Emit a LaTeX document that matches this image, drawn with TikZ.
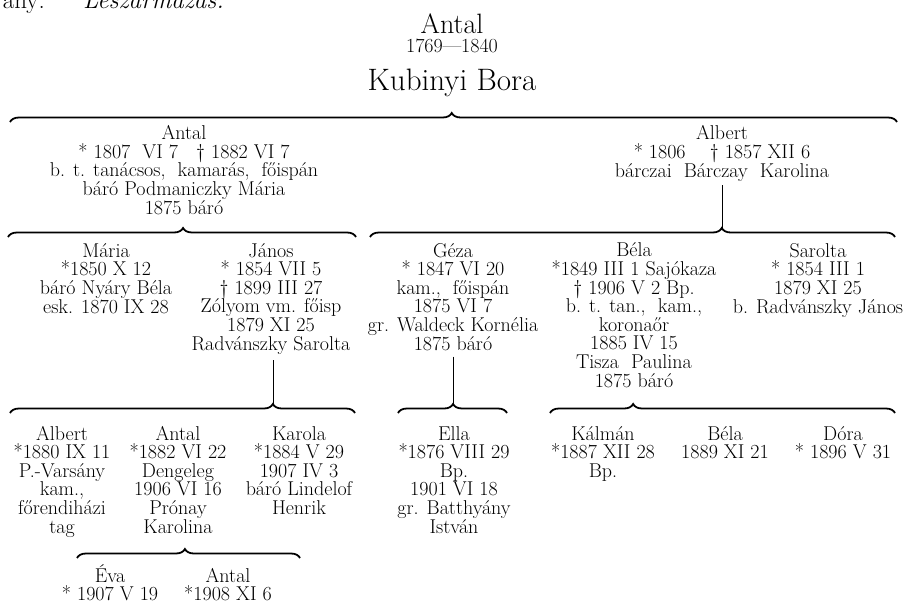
\documentclass[tikz,border=0pt]{standalone}
\usepackage{fontspec}
\usetikzlibrary{decorations.pathreplacing}
\begin{document}
\begin{tikzpicture}[x=1pt,y=1pt,
  person/.style={align=center,anchor=base,inner sep=0pt,font=\fontsize{20}{18.6}\selectfont},
  kids/.style={decorate,decoration={brace,amplitude=9pt,aspect=#1},line width=1.8pt},
  stem/.style={line width=0.8pt}]

\useasboundingbox (0,0) rectangle (905,-605);

\node[anchor=base east,inner sep=0pt,font=\fontsize{25}{27}\selectfont] (prev) at (45,-9) {ány:};
\node[anchor=base west,inner sep=0pt,font=\fontsize{25}{27}\selectfont\itshape] (lesz) at (83,-9) {Leszármazás:};

\begin{scope}
\node[anchor=base,inner sep=0pt,font=\fontsize{28}{30}\selectfont] (antal0) at (452,-33) {Antal};
\node[anchor=base,inner sep=0pt,font=\fontsize{20}{22}\selectfont] (dates0) at (452,-52) {1769---1840};
\node[anchor=base,inner sep=0pt,font=\fontsize{31}{33}\selectfont] (bora0) at (452,-90) {Kubinyi Bora};
\coordinate (b0l) at (10,-122);
\coordinate (b0r) at (897,-122);
\draw[kids=0.498] (b0l) -- (b0r);
\end{scope}

\begin{scope}
\node[person] (antal1) at (184,-214) {Antal\\ * 1807 \ VI 7 \ \ \dag\ 1882 VI 7\\ b. t. tanácsos, \ kamarás, \ főispán\\ báró Podmaniczky Mária\\ 1875 báró};
\node[person] (albert1) at (722,-177) {Albert\\ * 1806 \ \ \ \dag\ 1857 XII 6\\ bárczai \ Bárczay \ Karolina};
\coordinate (b1l) at (8,-237);
\coordinate (b1r) at (356,-237);
\coordinate (b2l) at (370,-237);
\coordinate (b2r) at (895,-237);
\coordinate (t2) at (722,-228);
\draw[kids=0.503] (b1l) -- (b1r);
\draw[kids=0.670] (b2l) -- (b2r);
\draw[stem] ([yshift=-4pt]albert1.south -| t2) -- (t2);
\end{scope}

\begin{scope}
\node[person] (maria2) at (106,-313) {Mária\\ *1850 X 12\\ báró Nyáry Béla\\ esk. 1870 IX 28};
\node[person] (janos2) at (271,-350) {János\\ * 1854 VII 5\\ \dag\ 1899 III 27\\ Zólyom vm. főisp\\ 1879 XI 25\\ Radvánszky Sarolta};
\node[person] (geza2) at (453,-350) {Géza\\ * 1847 VI 20\\ kam., \ főispán\\ 1875 VI 7\\ gr. Waldeck Kornélia\\ 1875 báró};
\node[person] (bela2) at (634,-387) {Béla\\ *1849 III 1 Sajókaza\\ \dag\ 1906 V 2 Bp.\\ b. t. tan., \ kam.,\\ koronaőr\\ 1885 IV 15\\ Tisza \ Paulina\\ 1875 báró};
\node[person] (sarolta2) at (818,-313) {Sarolta\\ * 1854 III 1\\ 1879 XI 25\\ b. Radvánszky János};
\coordinate (b3l) at (10,-413);
\coordinate (b3r) at (355,-413);
\coordinate (t3) at (273,-404);
\coordinate (b4l) at (398,-413);
\coordinate (b4r) at (507,-413);
\coordinate (t4) at (453,-404);
\coordinate (b5l) at (550,-413);
\coordinate (b5r) at (895,-413);
\draw[kids=0.762] (b3l) -- (b3r);
\draw[kids=0.505] (b4l) -- (b4r);
\draw[kids=0.241] (b5l) -- (b5r);
\draw[stem] ([yshift=-6pt]janos2.south -| t3) -- (t3);
\draw[stem] ([yshift=-6pt]geza2.south -| t4) -- (t4);
\end{scope}

\begin{scope}
\node[person] (albert3) at (62,-533) {Albert\\ *1880 IX 11\\ P.-Varsány\\ kam.,\\ főrendiházi\\ tag};
\node[person] (antal3) at (178,-533) {Antal\\ *1882 VI 22\\ Dengeleg\\ 1906 VI 16\\ Prónay\\ Karolina};
\node[person] (karola3) at (299,-514.4) {Karola\\ *1884 V 29\\ 1907 IV 3\\ báró Lindelof\\ Henrik};
\node[person] (ella3) at (454,-533) {Ella\\ *1876 VIII 29\\ Bp.\\ 1901 VI 18\\ gr. Batthyány\\ István};
\node[person] (kalman3) at (603,-477.2) {Kálmán\\ *1887 XII 28\\ Bp.};
\node[person] (bela3) at (725,-458.6) {Béla\\ 1889 XI 21};
\node[person] (dora3) at (843,-458.6) {Dóra\\ * 1896 V 31};
\coordinate (b6l) at (77,-558);
\coordinate (b6r) at (300,-558);
\draw[kids=0.484] (b6l) -- (b6r);
\end{scope}

\begin{scope}
\node[person] (eva4) at (110,-600.6) {Éva\\ * 1907 V 19};
\node[person] (antal4) at (228,-600.6) {Antal\\ *1908 XI 6};
\end{scope}

\end{tikzpicture}
\end{document}
